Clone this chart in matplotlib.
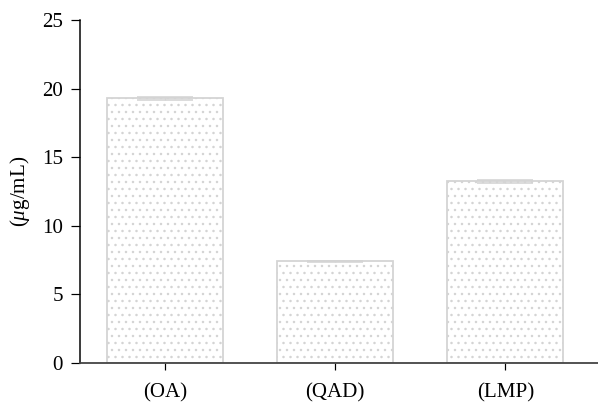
import matplotlib
matplotlib.use("Agg")
import matplotlib.pyplot as plt

# bar values
categories = ["(OA)", "(QAD)", "(LMP)"]
values = [19.3, 7.4, 13.25]
errors = [0.12, 0.05, 0.12]

DPI = 126
PT = 72.0 / DPI  # points per pixel

plt.rcParams["font.family"] = ["Liberation Serif", "DejaVu Serif"]
plt.rcParams["mathtext.fontset"] = "custom"
plt.rcParams["mathtext.it"] = "Liberation Serif:italic"
plt.rcParams["mathtext.rm"] = "Liberation Serif"
plt.rcParams["hatch.color"] = "#c4c4c4"
plt.rcParams["hatch.linewidth"] = 0.6

fig = plt.figure(figsize=(598 / DPI, 402 / DPI), dpi=DPI)
ax = fig.add_axes([80 / 598, 39 / 402, 518 / 598, 343 / 402])

x = list(range(len(categories)))
ax.bar(x, values, width=0.68, color="white", edgecolor="#d4d4d4",
       linewidth=1.8 * PT, hatch="...")
ax.errorbar(x, values, yerr=errors, fmt="none", ecolor="#d4d4d4",
            elinewidth=1.2 * PT, capsize=28 * PT, capthick=1.6 * PT)

ax.set_xlim(-0.5, 2.545)
ax.set_ylim(0, 25)
ax.set_yticks([0, 5, 10, 15, 20, 25])
ax.set_xticks(x)
ax.set_xticklabels(categories)
ax.set_ylabel(r"($\mu$g/mL)", fontsize=21 * PT, labelpad=10 * PT)

for side in ("top", "right"):
    ax.spines[side].set_visible(False)
ax.spines["left"].set_linewidth(1.5 * PT)
ax.spines["left"].set_color("black")
ax.spines["bottom"].set_linewidth(1.8 * PT)
ax.spines["bottom"].set_color("#444444")

ax.tick_params(axis="y", direction="out", length=9 * PT, width=1.2 * PT,
               labelsize=21 * PT, pad=8 * PT)
ax.tick_params(axis="x", direction="out", length=7 * PT, width=1.2 * PT,
               labelsize=21 * PT, pad=13 * PT)

fig.savefig("out.png", dpi=DPI)
